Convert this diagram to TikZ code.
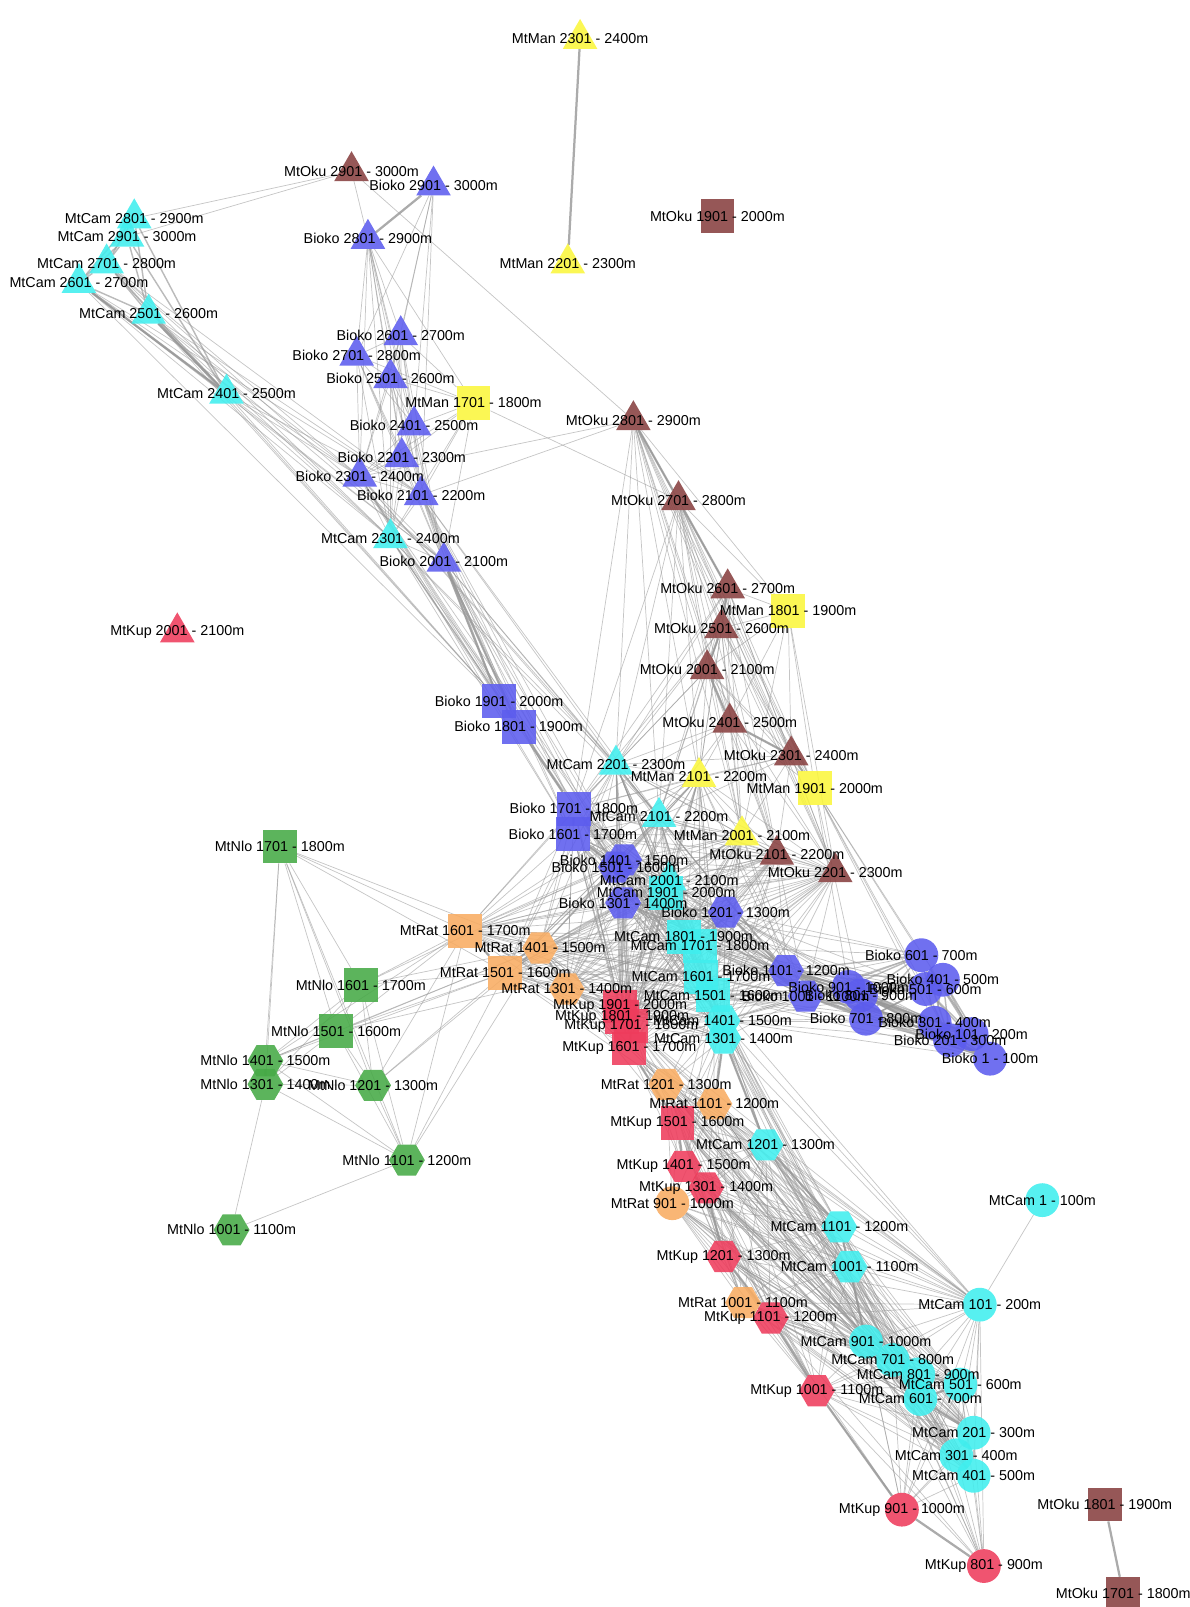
\documentclass[tikz,border=0pt]{standalone}
\usepackage{fontspec}
\setmainfont{Liberation Sans}
\usetikzlibrary{shapes.geometric}

\pgfdeclarelayer{bg}
\pgfdeclarelayer{fg}
\pgfsetlayers{bg,main,fg}

\definecolor{camcol}{RGB}{64,238,238}
\definecolor{biocol}{RGB}{92,92,238}
\definecolor{okucol}{RGB}{136,64,64}
\definecolor{mancol}{RGB}{250,246,60}
\definecolor{kupcol}{RGB}{238,60,92}
\definecolor{ratcol}{RGB}{248,172,98}
\definecolor{nlocol}{RGB}{70,170,70}
\definecolor{tiecol}{RGB}{150,150,150}

\tikzset{
  site/.style={inner sep=0pt, outer sep=0pt, draw=none, fill opacity=0.88},
  tri/.style={site, regular polygon, regular polygon sides=3, minimum size=19.5pt},
  sq/.style={site, rectangle, minimum size=16.5pt},
  hex/.style={site, regular polygon, regular polygon sides=6, minimum size=17.5pt},
  dot/.style={site, circle, minimum size=16.5pt},
  lbl/.style={font=\fontsize{7}{8}\selectfont, inner sep=0pt, text=black},
  tie/.style={draw=tiecol, line width=0.35pt, opacity=0.55},
  tiem/.style={draw=tiecol, line width=0.7pt, opacity=0.65},
  tieb/.style={draw=tiecol, line width=1.1pt, opacity=0.8}
}

% one node per band, label centred on it
\newcommand{\sites}[2]{%
  \foreach \nm/\x/\y/\txt in {#2}{%
    \node[#1] (\nm) at (\x,\y) {};
    \begin{pgfonlayer}{fg}
      \node[lbl] (\nm-l) at (\nm) {\txt};
    \end{pgfonlayer}
  }}
% all pairs of a list
\newcommand{\clique}[2]{%
  \foreach \a [count=\i] in {#2}{%
    \foreach \b [count=\j] in {#2}{%
      \ifnum\j>\i \draw[#1] (\a) -- (\b); \fi
    }}}

\begin{document}
\begin{tikzpicture}[x=0.5pt, y=-0.5pt]
  \useasboundingbox (0,0) rectangle (1161,1568);

  % Triangles, 2001 - 3000m
  \sites{tri, fill=camcol}{c2001/653/859/MtCam 2001 - 2100m, c2101/643/797/MtCam 2101 - 2200m, c2201/601/746/MtCam 2201 - 2300m, c2301/381/525/MtCam 2301 - 2400m, c2401/221/384/MtCam 2401 - 2500m, c2501/145/306/MtCam 2501 - 2600m, c2601/77/276/MtCam 2601 - 2700m, c2701/104/257/MtCam 2701 - 2800m, c2901/124/231/MtCam 2901 - 3000m, c2801/131/213/MtCam 2801 - 2900m}
  \sites{tri, fill=biocol}{b2001/433/548/Bioko 2001 - 2100m, b2101/411/483/Bioko 2101 - 2200m, b2301/351/465/Bioko 2301 - 2400m, b2201/392/446/Bioko 2201 - 2300m, b2401/404/415/Bioko 2401 - 2500m, b2501/381/369/Bioko 2501 - 2600m, b2701/348/347/Bioko 2701 - 2800m, b2601/391/327/Bioko 2601 - 2700m, b2801/359/233/Bioko 2801 - 2900m, b2901/423/181/Bioko 2901 - 3000m}
  \sites{tri, fill=okucol}{o2001/690/653/MtOku 2001 - 2100m, o2101/758/834/MtOku 2101 - 2200m, o2201/815/851/MtOku 2201 - 2300m, o2301/772/737/MtOku 2301 - 2400m, o2401/712/705/MtOku 2401 - 2500m, o2501/704/613/MtOku 2501 - 2600m, o2601/710/574/MtOku 2601 - 2700m, o2701/662/488/MtOku 2701 - 2800m, o2801/618/410/MtOku 2801 - 2900m, o2901/343/167/MtOku 2901 - 3000m}
  \sites{tri, fill=mancol}{m2001/724/815/MtMan 2001 - 2100m, m2101/682/758/MtMan 2101 - 2200m, m2201/554/257/MtMan 2201 - 2300m, m2301/566/38/MtMan 2301 - 2400m}
  \sites{tri, fill=kupcol}{k2001/173/617/MtKup 2001 - 2100m}

  % Squares, 1501 - 2000m
  \sites{sq, fill=camcol}{c1901/650/871/MtCam 1901 - 2000m, c1801/667/914/MtCam 1801 - 1900m, c1701/683/923/MtCam 1701 - 1800m, c1601/684/953/MtCam 1601 - 1700m, c1501/696/971/MtCam 1501 - 1600m}
  \sites{sq, fill=biocol}{b1901/487/684/Bioko 1901 - 2000m, b1801/506/709/Bioko 1801 - 1900m, b1701/560/789/Bioko 1701 - 1800m, b1601/559/814/Bioko 1601 - 1700m}
  \sites{sq, fill=okucol}{o1901/700/211/MtOku 1901 - 2000m, o1801/1078/1468/MtOku 1801 - 1900m, o1701/1096/1555/MtOku 1701 - 1800m}
  \sites{sq, fill=mancol}{m1701/462/393/MtMan 1701 - 1800m, m1801/769/596/MtMan 1801 - 1900m, m1901/795/769/MtMan 1901 - 2000m}
  \sites{sq, fill=kupcol}{k1901/605/982/MtKup 1901 - 2000m, k1801/607/992/MtKup 1801 - 1900m, k1701/616/1001/MtKup 1701 - 1800m, k1601/614/1023/MtKup 1601 - 1700m, k1501/661/1096/MtKup 1501 - 1600m}
  \sites{sq, fill=ratcol}{r1601/454/908/MtRat 1601 - 1700m, r1501/493/949/MtRat 1501 - 1600m}
  \sites{sq, fill=nlocol}{n1701/273/826/MtNlo 1701 - 1800m, n1601/352/961/MtNlo 1601 - 1700m, n1501/328/1006/MtNlo 1501 - 1600m}

  % Hexagons, 1001 - 1500m
  \sites{hex, fill=camcol}{c1401/705/996/MtCam 1401 - 1500m, c1301/706/1013/MtCam 1301 - 1400m, c1201/747/1117/MtCam 1201 - 1300m, c1101/819/1197/MtCam 1101 - 1200m, c1001/829/1236/MtCam 1001 - 1100m}
  \sites{hex, fill=biocol}{b1501/601/846/Bioko 1501 - 1600m, b1401/609/839/Bioko 1401 - 1500m, b1301/608/881/Bioko 1301 - 1400m, b1201/708/890/Bioko 1201 - 1300m, b1101/767/947/Bioko 1101 - 1200m, b1001/786/972/Bioko 1001 - 1100m}
  \sites{hex, fill=kupcol}{k1401/667/1138/MtKup 1401 - 1500m, k1301/689/1159/MtKup 1301 - 1400m, k1201/706/1226/MtKup 1201 - 1300m, k1101/752/1286/MtKup 1101 - 1200m, k1001/797/1357/MtKup 1001 - 1100m}
  \sites{hex, fill=ratcol}{r1401/527/925/MtRat 1401 - 1500m, r1301/553/965/MtRat 1301 - 1400m, r1201/650/1058/MtRat 1201 - 1300m, r1101/697/1077/MtRat 1101 - 1200m, r1001/725/1271/MtRat 1001 - 1100m}
  \sites{hex, fill=nlocol}{n1401/259/1035/MtNlo 1401 - 1500m, n1301/259/1058/MtNlo 1301 - 1400m, n1201/364/1059/MtNlo 1201 - 1300m, n1101/397/1132/MtNlo 1101 - 1200m, n1001/226/1200/MtNlo 1001 - 1100m}

  % Circles, 1 - 1000m
  \sites{dot, fill=camcol}{c1/1017/1171/MtCam 1 - 100m, c101/956/1273/MtCam 101 - 200m, c901/845/1309/MtCam 901 - 1000m, c701/871/1327/MtCam 701 - 800m, c801/896/1341/MtCam 801 - 900m, c501/937/1351/MtCam 501 - 600m, c601/898/1365/MtCam 601 - 700m, c201/950/1398/MtCam 201 - 300m, c301/933/1420/MtCam 301 - 400m, c401/950/1440/MtCam 401 - 500m}
  \sites{dot, fill=biocol}{b901/828/963/Bioko 901 - 1000m, b801/840/971/Bioko 801 - 900m, b701/845/994/Bioko 701 - 800m, b601/899/932/Bioko 601 - 700m, b501/903/965/Bioko 501 - 600m, b401/920/956/Bioko 401 - 500m, b301/912/998/Bioko 301 - 400m, b201/927/1015/Bioko 201 - 300m, b101/948/1009/Bioko 101 - 200m, b1/966/1033/Bioko 1 - 100m}
  \sites{dot, fill=kupcol}{k901/880/1473/MtKup 901 - 1000m, k801/960/1528/MtKup 801 - 900m}
  \sites{dot, fill=ratcol}{r901/656/1174/MtRat 901 - 1000m}

  % Edges
  \begin{pgfonlayer}{bg}
    % core mesh
    \clique{tie}{b1701,b1601,b1501,b1401,b1301,b1201,b1101,b1001,c2201,c2101,c2001,c1901,c1801,c1701,c1601,c1501,c1401,c1301,k1901,k1801,k1701,k1601,r1601,r1501,r1401,r1301,m2101,m2001,o2101,o2201}
    % lower chain
    \clique{tie}{k1501,k1401,k1301,k1201,k1101,k1001,r1201,r1101,r1001,r901,c1201,c1101,c1001,c901,c801,c701,c601,c501,c401,c301,c201,c101}
    \foreach \a in {k901,k801}
      \foreach \b in {c201,c301,c401,c501,c601,c701,c801,c901,c1001,c101,k1001,k1101}
        \draw[tie] (\a) -- (\b);
    % low Bioko
    \clique{tiem}{b1,b101,b201,b301,b401,b501,b601,b701,b801,b901,b1001,b1101}
    % upper groups
    \clique{tie}{b2001,b2101,b2201,b2301,b2401,b2501,b2601,b2701,b2801,m1701,c2301}
    \clique{tiem}{c2401,c2501,c2601,c2701,c2801,c2901}
    \clique{tie}{o2801,o2701,o2601,o2501,o2001,o2401,o2301,m1801,m1901}
    \clique{tie}{n1701,n1601,n1501,n1401,n1301,n1201,n1101}
    \foreach \a in {c2401,c2501,c2601,c2701}
      \foreach \b in {c2301,b2301,b2101,b2001,b1901}
        \draw[tie] (\a) -- (\b);
    \foreach \a in {b2001,c2301,b2101,b2301}
      \foreach \b in {b1901,b1801,b1701,b1601,b1501,b1401,c2201,c2101}
        \draw[tie] (\a) -- (\b);
    \foreach \a in {o2801,o2701,o2601,o2501,o2001,o2401,o2301}
      \foreach \b in {c2201,b1701,c2101,m2101,m2001,o2101,o2201}
        \draw[tie] (\a) -- (\b);
    \foreach \a in {b1,b201,b301,b501,b601,b701,b901}
      \foreach \b in {b1201,c1501,c1701,c1401,b1301,m1901}
        \draw[tie] (\a) -- (\b);
    \foreach \a in {c1201,c1101,c1001,c901,c701,c101,r1201,r1101,k1501,k1401}
      \foreach \b in {c1301,c1401,c1501,k1601,k1701}
        \draw[tie] (\a) -- (\b);
    \foreach \a in {n1701,n1601,n1501,n1401,n1201,n1101}
      \foreach \b in {r1601,r1501,r1401}
        \draw[tie] (\a) -- (\b);
    \foreach \a/\b in {c1/c101, n1301/n1001, n1101/n1001, c2801/o2901, c2901/o2901, o2901/o2801, o2901/b2801,
        b2901/b2701, b2901/b2601, b2901/b2501, b2901/b2401, b2901/b2101, b2301/o2801, b2101/o2801, m1701/o2701,
        r1301/r1201, r1401/r1201, r1301/k1501, r1501/r1201, n1601/b1401, n1501/c1701, m1801/o2201, m1801/m2001}
      \draw[tie] (\a) -- (\b);
    % strong ties
    \foreach \a/\b in {m2301/m2201, o1801/o1701, b2901/b2801, c2601/c2401, c2501/c2401, b2001/b1901, b1901/b1801,
        b1801/b1701, b1701/b1601, b2001/b1801, b1601/b1501, b1501/b1401, b1401/b1301, b1301/b1201, b1201/b1101,
        o2801/o2701, o2701/o2601, o2601/o2501, o2501/o2001, o2001/o2401, o2401/o2301, o2301/m1901,
        n1401/n1301, c1301/c1401, c1401/c1501, c1501/c1601, c1601/c1701, c1701/c1801, c1801/c1901, c1901/c2001,
        k1701/k1601, k1601/k1501, k1501/k1401, k1401/k1301, k1301/k1201, k1201/k1101, k1101/k1001, k1001/k901,
        k901/k801, c1201/c1101, c1101/c1001, c1001/c901, c901/c701, c701/c801, c801/c501, c501/c601, c601/c201,
        c201/c301, c301/c401, b1101/b901, b901/b801, b801/b701, b701/b301, b301/b201, b201/b101, b101/b1,
        r1601/r1501, r1501/r1401, r1401/r1301, c1301/c1201, c1301/r1101}
      \draw[tieb] (\a) -- (\b);
  \end{pgfonlayer}

\end{tikzpicture}
\end{document}
